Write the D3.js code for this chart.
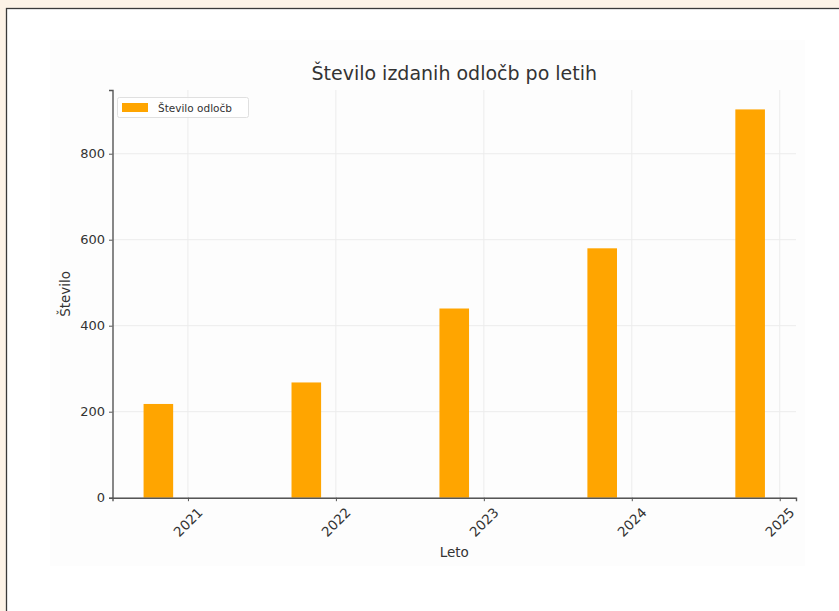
<!DOCTYPE html>
<html><head><meta charset="utf-8">
<script src="https://cdn.jsdelivr.net/npm/d3@7"></script>
<style>html,body{margin:0;padding:0;background:#fdf3e7;}svg{display:block;}</style>
</head><body>
<script>
const years = [2021, 2022, 2023, 2024, 2025];
const counts = [218, 268, 440, 580, 903];
const yTicks = [0, 200, 400, 600, 800];
const seriesName = "Število odločb";
const titleText = "Število izdanih odločb po letih";
const xLabel = "Leto";
const yLabel = "Število";

const W = 839, H = 611;
const svg = d3.select("body").append("svg").attr("width", W).attr("height", H);
svg.append("rect").attr("width", W).attr("height", H).attr("fill", "#fdf3e7");
svg.append("rect").attr("x", 6.5).attr("y", 8.5).attr("width", W).attr("height", H)
  .attr("fill", "#ffffff").attr("stroke", "#3a3a3a").attr("stroke-width", 1.3);
svg.append("rect").attr("x", 50).attr("y", 40).attr("width", 755).attr("height", 526).attr("fill", "#fdfdfd");

const L = 112.5, R = 796, T = 90, B = 497.7;
const xmin = years[0] - 0.3, xmax = years[years.length - 1] - 0.1;
const xm = (xmax - xmin) * 0.05;
const x = d3.scaleLinear().domain([xmin - xm, xmax + xm]).range([L, R]);
const ymax = d3.max(counts) * 1.05;
const y = d3.scaleLinear().domain([0, ymax]).range([B, T]);

const g = svg.append("g");
g.selectAll(".hg").data(yTicks).join("line")
  .attr("x1", L).attr("x2", R).attr("y1", d => y(d)).attr("y2", d => y(d))
  .attr("stroke", "#ececec").attr("stroke-width", 1);
g.selectAll(".vg").data(years).join("line")
  .attr("y1", T).attr("y2", B).attr("x1", d => x(d)).attr("x2", d => x(d))
  .attr("stroke", "#ececec").attr("stroke-width", 1);

g.selectAll(".bar").data(years.map((yr, i) => ({yr, v: counts[i]}))).join("rect")
  .attr("x", d => x(d.yr - 0.3)).attr("width", d => x(d.yr - 0.1) - x(d.yr - 0.3))
  .attr("y", d => y(d.v)).attr("height", d => y(0) - y(d.v))
  .attr("fill", "#FFA500");

const yAxis = d3.axisLeft(y).tickValues(yTicks).tickSize(3.5).tickPadding(4);
const xAxis = d3.axisBottom(x).tickValues(years).tickSize(3.5).tickFormat("");
const ya = svg.append("g").attr("transform", `translate(${L},0)`).call(yAxis);
const xa = svg.append("g").attr("transform", `translate(0,${B})`).call(xAxis);
[ya, xa].forEach(a => {
  a.select(".domain").attr("stroke", "#555").attr("stroke-width", 1.4);
  a.selectAll(".tick line").attr("stroke", "#555");
  a.selectAll("text").attr("fill", "#333").style("font-family", "DejaVu Sans").style("font-size", "13px");
});
svg.selectAll(".xl").data(years).join("text")
  .attr("transform", d => `translate(${x(d)},522) rotate(-45)`)
  .attr("text-anchor", "middle").attr("dominant-baseline", "central")
  .attr("fill", "#333").style("font-family", "DejaVu Sans").style("font-size", "13.5px")
  .text(d => d);

svg.append("text").attr("x", (L + R) / 2).attr("y", 80).attr("text-anchor", "middle")
  .attr("fill", "#333").style("font-family", "DejaVu Sans").style("font-size", "19px").text(titleText);
svg.append("text").attr("x", (L + R) / 2).attr("y", 556.5).attr("text-anchor", "middle")
  .attr("fill", "#333").style("font-family", "DejaVu Sans").style("font-size", "13.5px").text(xLabel);
svg.append("text").attr("transform", `translate(70,${(T + B) / 2}) rotate(-90)`).attr("text-anchor", "middle")
  .attr("fill", "#333").style("font-family", "DejaVu Sans").style("font-size", "13.5px").text(yLabel);

const lg = svg.append("g");
lg.append("rect").attr("x", 117.5).attr("y", 97.5).attr("width", 131).attr("height", 20).attr("rx", 2)
  .attr("fill", "#ffffff").attr("fill-opacity", 0.8).attr("stroke", "#e0e0e0");
lg.append("rect").attr("x", 122).attr("y", 103).attr("width", 26).attr("height", 9).attr("fill", "#FFA500");
lg.append("text").attr("x", 158).attr("y", 107.5).attr("dominant-baseline", "central")
  .attr("fill", "#333").style("font-family", "DejaVu Sans").style("font-size", "10.5px").text(seriesName);
</script>
</body></html>
